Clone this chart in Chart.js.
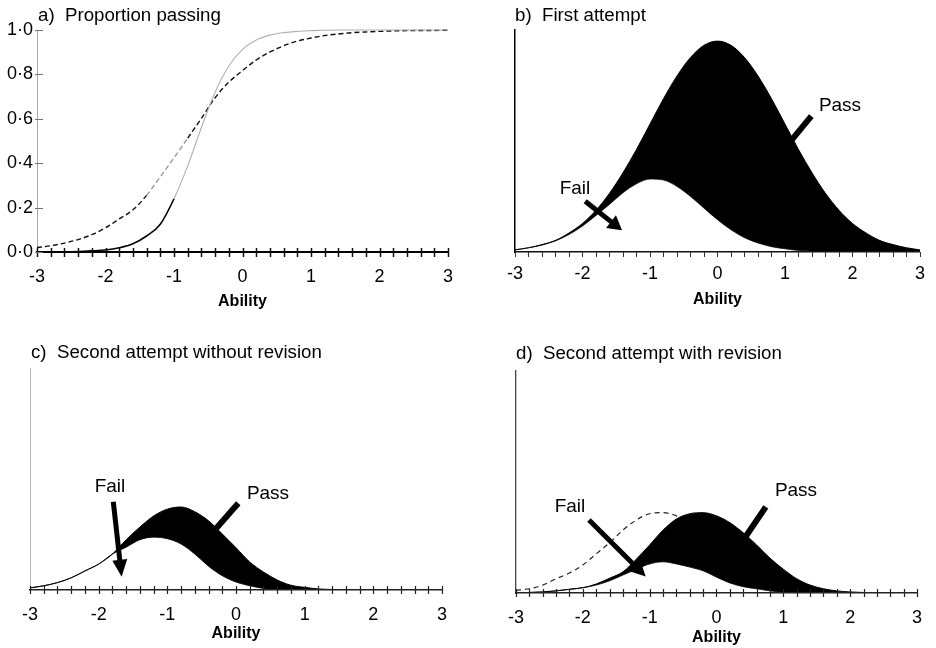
<!DOCTYPE html>
<html>
<head>
<meta charset="utf-8">
<script src="https://cdn.jsdelivr.net/npm/chart.js@4.4.1/dist/chart.umd.min.js"></script>
<style>
html,body{margin:0;padding:0;background:#fff;}
#wrap{position:relative;width:936px;height:648px;overflow:hidden;background:#fff;font-family:"Liberation Sans",Arial,Helvetica,sans-serif;color:#000;}
canvas{position:absolute;}
.t{position:absolute;white-space:pre;line-height:1;}
.ttl{font-size:18.7px;transform:translateY(-50%);}
.lab{font-size:19px;transform:translate(-50%,-50%);}
</style>
</head>
<body>
<div id="wrap">
  <canvas id="ca" width="468" height="320" style="left:0;top:0"></canvas>
  <canvas id="cb" width="468" height="320" style="left:468px;top:0"></canvas>
  <canvas id="cc" width="468" height="328" style="left:0;top:320px"></canvas>
  <canvas id="cd" width="468" height="328" style="left:468px;top:320px"></canvas>

  <div class="t ttl" style="left:38px;top:15px">a)  Proportion passing</div>
  <div class="t ttl" style="left:515px;top:15px">b)  First attempt</div>
  <div class="t ttl" style="left:31px;top:352px">c)  Second attempt without revision</div>
  <div class="t ttl" style="left:516px;top:353px">d)  Second attempt with revision</div>

  <div class="t lab" style="left:575px;top:187px">Fail</div>
  <div class="t lab" style="left:840px;top:104px">Pass</div>
  <div class="t lab" style="left:110px;top:485px">Fail</div>
  <div class="t lab" style="left:268px;top:492px">Pass</div>
  <div class="t lab" style="left:570px;top:505px">Fail</div>
  <div class="t lab" style="left:796px;top:489px">Pass</div>
</div>
<script>
// ---------- data ----------
const ability = [-3.0,-2.8,-2.6,-2.4,-2.2,-2.0,-1.8,-1.6,-1.4,-1.2,-1.0,-0.8,-0.6,-0.4,-0.2,0.0,0.2,0.4,0.6,0.8,1.0,1.2,1.4,1.6,1.8,2.0,2.2,2.4,2.6,2.8,3.0];
const xTickLabels = ['-3','-2','-1','0','1','2','3'];
const yTickLabelsA = ['0·0','0·2','0·4','0·6','0·8','1·0'];

// a) proportion passing
const passDashed = [0.020,0.028,0.040,0.056,0.078,0.109,0.149,0.190,0.255,0.339,0.424,0.513,0.602,0.695,0.765,0.817,0.865,0.901,0.929,0.950,0.964,0.975,0.982,0.988,0.991,0.994,0.996,0.997,0.998,0.998,0.999];
const passSolid  = [0.000,0.001,0.001,0.002,0.005,0.009,0.019,0.037,0.072,0.125,0.240,0.388,0.561,0.720,0.838,0.913,0.955,0.977,0.988,0.994,0.997,0.999,1.000,1.000,1.000,1.000,1.000,1.000,1.000,1.000,1.000];

// b) first attempt (relative frequency)
const firstTotal = [0.4,0.8,1.4,2.2,3.6,5.4,7.9,11.1,15.0,19.4,24.2,29.0,33.3,36.8,39.1,39.9,39.1,36.8,33.3,29.0,24.2,19.4,15.0,11.1,7.9,5.4,3.6,2.2,1.4,0.8,0.4];
const firstFail  = [0.4,0.8,1.3,2.1,3.3,4.9,6.9,9.0,11.2,12.9,13.8,13.6,12.4,10.5,8.3,6.1,4.2,2.7,1.7,1.0,0.6,0.3,0.2,0.1,0,0,0,0,0,0,0];

// c) second attempt without revision
const secondTotal = [0.4,0.8,1.4,2.3,3.6,4.9,6.8,9.5,11.9,14.0,15.3,15.7,14.8,13.1,10.6,8.0,5.3,3.4,1.9,0.9,0.5,0.2,0.1,0,0,0,0,0,0,0,0];
const secondFail  = [0.4,0.8,1.4,2.3,3.6,4.9,6.8,8.1,9.5,10.0,9.7,8.7,6.8,4.5,2.7,1.5,0.8,0.3,0.1,0,0,0,0,0,0,0,0,0,0,0,0];

// d) second attempt with revision
const beforeRevision = [0.5,0.8,1.5,2.7,3.8,5.3,7.4,9.5,11.9,13.8,15.0,15.2,14.6,13.3,11.0,8.3,5.7,3.6,2.1,1.1,0.6,0.3,0.1,0,0,0,0,0,0,0,0];
const revisedTotal   = [0,0.1,0.2,0.4,0.7,1.0,1.7,2.8,4.0,6.4,9.1,11.9,14.0,15.0,15.2,14.6,13.3,11.4,9.1,6.6,4.5,2.7,1.5,0.8,0.4,0.2,0.1,0,0,0,0];
const revisedFail    = [0,0.1,0.2,0.4,0.7,1.0,1.5,2.3,3.4,4.5,5.5,5.9,5.5,4.9,4.2,3.0,1.9,1.2,0.8,0.4,0.2,0.1,0,0,0,0,0,0,0,0,0];

// ---------- helpers ----------
const F = '"Liberation Sans", Arial, Helvetica, sans-serif';
const pts = arr => ability.map((x, i) => ({x: x, y: arr[i]}));

function decor(cfg) {
  return {
    id: 'decor',
    afterDatasetsDraw(chart) {
      const ctx = chart.ctx, xs = chart.scales.x, ys = chart.scales.y;
      (cfg.arrows || []).forEach(a => {
        const x0 = xs.getPixelForValue(a.from[0]), y0 = ys.getPixelForValue(a.from[1]);
        const x1 = xs.getPixelForValue(a.to[0]), y1 = ys.getPixelForValue(a.to[1]);
        const dx = x1 - x0, dy = y1 - y0, len = Math.hypot(dx, dy), ux = dx / len, uy = dy / len;
        const hl = a.headLen || 0;
        ctx.save();
        ctx.strokeStyle = '#000'; ctx.fillStyle = '#000'; ctx.lineWidth = a.width; ctx.lineCap = 'butt';
        ctx.beginPath(); ctx.moveTo(x0, y0); ctx.lineTo(x1 - ux * hl * 0.8, y1 - uy * hl * 0.8); ctx.stroke();
        if (hl) {
          const bx = x1 - ux * hl, by = y1 - uy * hl, px = -uy, py = ux, hw = a.headW / 2;
          ctx.beginPath(); ctx.moveTo(x1, y1);
          ctx.lineTo(bx + px * hw, by + py * hw); ctx.lineTo(bx - px * hw, by - py * hw);
          ctx.closePath(); ctx.fill();
        }
        ctx.restore();
      });
    },
    afterDraw(chart) {
      const ctx = chart.ctx, xs = chart.scales.x, ys = chart.scales.y;
      const base = ys.getPixelForValue(ys.min);
      ctx.save();
      ctx.strokeStyle = cfg.tickColor; ctx.lineWidth = cfg.tickWidth;
      ability.forEach(v => {
        const px = Math.round(xs.getPixelForValue(v)) + 0.5;
        ctx.beginPath(); ctx.moveTo(px, base - cfg.tickUp); ctx.lineTo(px, base + cfg.tickDown); ctx.stroke();
      });
      if (cfg.yTicks) {
        ctx.strokeStyle = '#777'; ctx.lineWidth = 1;
        ys.ticks.forEach(t => {
          const py = Math.round(ys.getPixelForValue(t.value)) + 0.5;
          ctx.beginPath(); ctx.moveTo(ys.right - 2, py); ctx.lineTo(ys.right + 6, py); ctx.stroke();
        });
      }
      ctx.restore();
    }
  };
}

function xScale(o) {
  return {
    type: 'linear', min: -3, max: 3,
    ticks: {stepSize: 1, autoSkip: false, maxRotation: 0, padding: o.tickPad, color: '#000',
            font: {family: F, size: 18}, callback: v => xTickLabels[Math.round(v) + 3]},
    grid: {display: false, drawTicks: false},
    border: {display: true, color: o.bc, width: o.bw, z: 1},
    title: {display: true, text: 'Ability', color: '#000', font: {family: F, size: 16, weight: 'bold'},
            padding: {top: 0, bottom: o.tpb}},
    afterFit: s => { s.height = o.h; }
  };
}

function densityY(o) {
  return {
    type: 'linear', min: 0, max: 42,
    ticks: {display: false},
    grid: {display: false, drawTicks: false},
    border: {display: true, color: o.color, width: o.width, dash: o.dash || []},
    afterFit: s => { s.width = o.w; }
  };
}

const common = {
  responsive: false, animation: false, devicePixelRatio: 1,
  plugins: {legend: {display: false}, tooltip: {enabled: false}},
  elements: {point: {radius: 0}}
};

// ---------- a) ----------
new Chart(document.getElementById('ca'), {
  type: 'line',
  data: {datasets: [
    {label: 'Pass (steep)', data: pts(passSolid), borderWidth: 1.4, borderColor: '#000', fill: false,
     cubicInterpolationMode: 'monotone', clip: false,
     segment: {borderColor: c => c.p1.parsed.x <= -0.95 ? '#000' : '#b0b0b0',
               borderWidth: c => c.p1.parsed.x <= -0.95 ? 1.6 : 1.1}},
    {label: 'Pass (dashed)', data: pts(passDashed), borderWidth: 1.4, borderColor: '#111', borderDash: [5, 3],
     fill: false, cubicInterpolationMode: 'monotone', clip: false,
     segment: {borderColor: c => (c.p0.parsed.x > -1.5 && c.p0.parsed.x < -0.9) ? '#9a9a9a' : '#111'}}
  ]},
  options: Object.assign({}, common, {
    layout: {padding: {top: 30, right: 20, bottom: 0, left: 0}},
    scales: {
      x: xScale({tickPad: 14, bc: '#000', bw: 2, tpb: 8.4, h: 68}),
      y: {type: 'linear', min: 0, max: 1,
          ticks: {stepSize: 0.2, padding: 4, color: '#000', font: {family: F, size: 18},
                  callback: v => yTickLabelsA[Math.round(v * 5)]},
          grid: {display: false, drawTicks: false},
          border: {display: true, color: '#a8a8a8', width: 1, dash: [1, 2]},
          afterFit: s => { s.width = 37; }}
    }
  }),
  plugins: [decor({tickColor: '#111', tickWidth: 1.5, tickUp: 4, tickDown: 5, yTicks: true})]
});

// ---------- b) ----------
new Chart(document.getElementById('cb'), {
  type: 'line',
  data: {datasets: [
    {label: 'Total', data: pts(firstTotal), borderColor: '#000', borderWidth: 1, backgroundColor: '#000',
     fill: '+1', cubicInterpolationMode: 'monotone'},
    {label: 'Fail', data: pts(firstFail), borderColor: '#555', borderWidth: 1, fill: false,
     cubicInterpolationMode: 'monotone'}
  ]},
  options: Object.assign({}, common, {
    layout: {padding: {top: 30, right: 11, bottom: 0, left: 0}},
    scales: {
      x: xScale({tickPad: 11, bc: '#111', bw: 1.5, tpb: 10.4, h: 68}),
      y: densityY({w: 47, color: '#000', width: 1.5})
    }
  }),
  plugins: [decor({tickColor: '#333', tickWidth: 1, tickUp: 0, tickDown: 5,
    arrows: [
      {from: [-1.96, 9.6], to: [-1.415, 4.1], width: 5, headLen: 14, headW: 16},
      {from: [1.39, 25.7], to: [1.10, 21.2], width: 6}
    ]})]
});

// ---------- c) ----------
new Chart(document.getElementById('cc'), {
  type: 'line',
  data: {datasets: [
    {label: 'Total', data: pts(secondTotal), borderColor: '#000', borderWidth: 1, backgroundColor: '#000',
     fill: '+1', cubicInterpolationMode: 'monotone'},
    {label: 'Fail', data: pts(secondFail), borderColor: '#333', borderWidth: 1, fill: false,
     cubicInterpolationMode: 'monotone'}
  ]},
  options: Object.assign({}, common, {
    layout: {padding: {top: 48, right: 26, bottom: 0, left: 0}},
    scales: {
      x: xScale({tickPad: 14, bc: '#222', bw: 1.5, tpb: 4.4, h: 58}),
      y: densityY({w: 30, color: '#b8b8b8', width: 1, dash: [1, 2]})
    }
  }),
  plugins: [decor({tickColor: '#222', tickWidth: 1.2, tickUp: 4, tickDown: 4,
    arrows: [
      {from: [-1.787, 16.7], to: [-1.665, 2.5], width: 5, headLen: 17, headW: 15},
      {from: [0.033, 16.4], to: [-0.306, 11.4], width: 6}
    ]})]
});

// ---------- d) ----------
new Chart(document.getElementById('cd'), {
  type: 'line',
  data: {datasets: [
    {label: 'Total', data: pts(revisedTotal), borderColor: '#000', borderWidth: 1, backgroundColor: '#000',
     fill: '+1', cubicInterpolationMode: 'monotone'},
    {label: 'Fail', data: pts(revisedFail), borderColor: '#333', borderWidth: 1, fill: false,
     cubicInterpolationMode: 'monotone'},
    {label: 'Before revision', data: pts(beforeRevision), borderColor: '#222', borderWidth: 1.2,
     borderDash: [5, 4], fill: false, cubicInterpolationMode: 'monotone'}
  ]},
  options: Object.assign({}, common, {
    layout: {padding: {top: 51, right: 8, bottom: 0, left: 0}},
    scales: {
      x: xScale({tickPad: 14, bc: '#222', bw: 1.5, tpb: 0.4, h: 55}),
      y: densityY({w: 48, color: '#444', width: 1.3, dash: [2, 1]})
    }
  }),
  plugins: [decor({tickColor: '#222', tickWidth: 1.2, tickUp: 4, tickDown: 4,
    arrows: [
      {from: [-1.908, 13.8], to: [-1.059, 3.1], width: 5, headLen: 16, headW: 16},
      {from: [0.738, 16.3], to: [0.422, 10.4], width: 6}
    ]})]
});
</script>
</body>
</html>
